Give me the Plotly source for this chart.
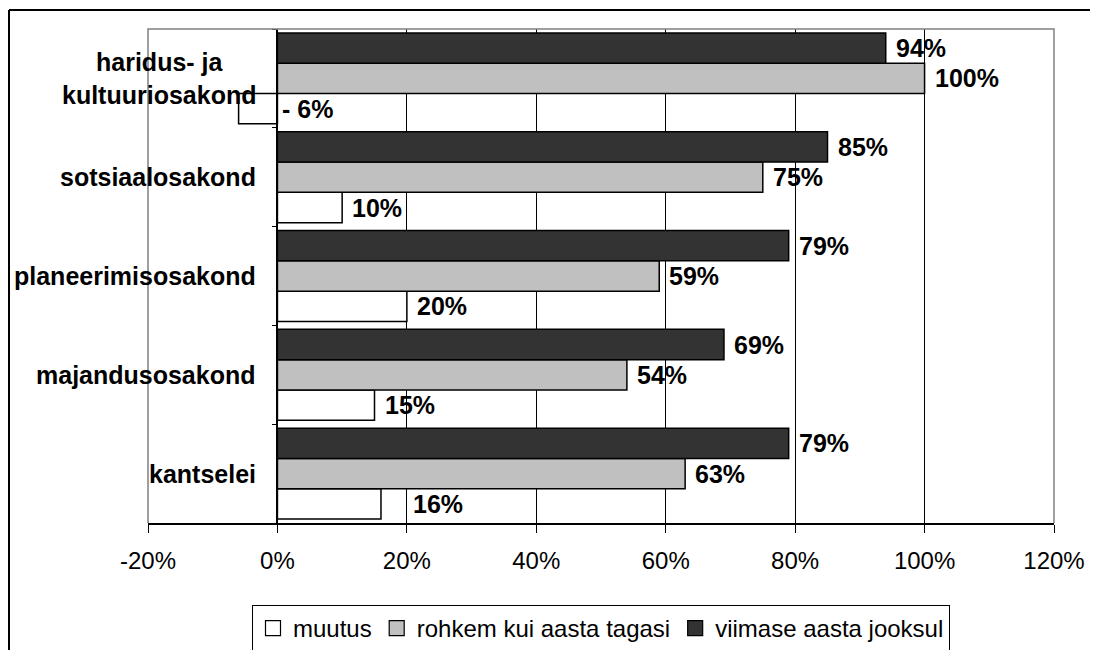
import plotly.graph_objects as go

# ---- data ----
categories = ["kantselei", "majandusosakond", "planeerimisosakond",
              "sotsiaalosakond", "haridus- ja<br>kultuuriosakond"]
muutus = [16, 15, 20, 10, -6]
rohkem = [63, 54, 59, 75, 100]
viimase = [79, 69, 79, 85, 94]
series_names = ["muutus", "rohkem kui aasta tagasi", "viimase aasta jooksul"]
x_ticks = [-20, 0, 20, 40, 60, 80, 100, 120]
x_ticklabels = ["-20%", "0%", "20%", "40%", "60%", "80%", "100%", "120%"]

# ---- style / layout ----
OFF = 8                      # page body margin
W, H = 1098 - OFF, 650 - OFF
ML, MR, MT, MB = 148 - OFF, 1098 - 1054, 29 - OFF, 650 - 523
PW, PH = W - ML - MR, H - MT - MB
FONT = "Liberation Sans, Arial, sans-serif"
fills = ["#FFFFFF", "#C0C0C0", "#333333"]
BARGAP = 0.08
LABEL_SHIFT = 8
label_shift_override = {(0, 0): 30}   # (series, category) -> xshift


def px_to_paper_x(px):
    return (px - OFF - ML) / PW


def px_to_paper_y(py):
    return (H - MB - (py - OFF)) / PH


series = [muutus, rohkem, viimase]
ypos = list(range(len(categories)))

fig = go.Figure()
for k, (name, vals) in enumerate(zip(series_names, series)):
    fig.add_trace(go.Bar(
        x=vals, y=ypos, orientation="h", name=name, showlegend=False,
        marker=dict(color=fills[k], line=dict(color="#000000", width=1.5)),
        hoverinfo="skip",
    ))
# legend entries (square swatches like the original)
for k, name in enumerate(series_names):
    fig.add_trace(go.Scatter(
        x=[None], y=[None], mode="markers", name=name, showlegend=True,
        marker=dict(symbol="square", size=15, color=fills[k],
                    line=dict(color="#000000", width=1.2)),
        hoverinfo="skip",
    ))

n = len(series)
bw = (1 - BARGAP) / n
annotations = []
for k, vals in enumerate(series):
    for i, v in enumerate(vals):
        yc = i - (1 - BARGAP) / 2 + (k + 0.5) * bw
        shift = label_shift_override.get((k, i), LABEL_SHIFT)
        xv = v
        if v < 0:
            xv = 0
            shift = 3
            txt = "- %d%%" % abs(v)
        else:
            txt = "%d%%" % v
        annotations.append(dict(
            x=xv, y=yc, xref="x", yref="y", text=txt, showarrow=False,
            xanchor="left", yanchor="middle", xshift=shift,
            font=dict(family=FONT, size=25, color="#000000", weight="bold"),
        ))

axis_pos = (0 - x_ticks[0]) / (x_ticks[-1] - x_ticks[0])
for i, c in enumerate(categories):
    annotations.append(dict(
        x=axis_pos, y=i, xref="paper", yref="y", text=c, showarrow=False,
        xanchor="right", yanchor="middle", align="center", xshift=-19,
        font=dict(family=FONT, size=25, color="#000000", weight="bold"),
    ))

shapes = [
    # plot-area border (grey, top/left/right)
    dict(type="path", xref="paper", yref="paper",
         path="M0,0 L0,1 L1,1 L1,0", line=dict(color="#808080", width=1.5),
         layer="above"),
    # outer chart border (top + left)
    dict(type="line", xref="paper", yref="paper",
         x0=px_to_paper_x(9), x1=px_to_paper_x(1110),
         y0=px_to_paper_y(10), y1=px_to_paper_y(10),
         line=dict(color="#000000", width=2)),
    dict(type="line", xref="paper", yref="paper",
         x0=px_to_paper_x(9), x1=px_to_paper_x(9),
         y0=px_to_paper_y(10), y1=px_to_paper_y(660),
         line=dict(color="#000000", width=2)),
]

fig.update_layout(
    width=W, height=H,
    margin=dict(l=ML, r=MR, t=MT, b=MB, pad=0, autoexpand=False),
    paper_bgcolor="#FFFFFF", plot_bgcolor="#FFFFFF",
    barmode="group", bargap=BARGAP, bargroupgap=0,
    font=dict(family=FONT, size=24, color="#000000"),
    showlegend=True,
    legend=dict(orientation="h", x=0.5, xanchor="center",
                yref="container", y=1 - (605 - OFF) / H, yanchor="top",
                bordercolor="#000000", borderwidth=1, bgcolor="#FFFFFF",
                font=dict(family=FONT, size=24, color="#000000"),
                itemwidth=30,
                traceorder="normal", itemclick=False, itemdoubleclick=False),
    annotations=annotations,
    shapes=shapes,
    xaxis=dict(range=[x_ticks[0], x_ticks[-1]], tickmode="array",
               tickvals=x_ticks, ticktext=x_ticklabels,
               showgrid=True, gridcolor="#000000", gridwidth=1,
               zeroline=False, showline=True, linecolor="#000000",
               linewidth=1.5, ticks="outside", ticklen=8,
               tickcolor="#000000", tickwidth=1, ticklabelstandoff=7,
               tickfont=dict(family=FONT, size=24, color="#000000"),
               fixedrange=True),
    yaxis=dict(range=[-0.5, len(categories) - 0.5], tickmode="array",
               tickvals=[i - 0.5 for i in range(len(categories) + 1)],
               showticklabels=False, showgrid=False, zeroline=False,
               anchor="free", position=axis_pos,
               showline=True, linecolor="#000000", linewidth=1.5,
               ticks="outside", ticklen=5, tickcolor="#000000",
               fixedrange=True),
)

fig.write_html("out.html", config={"displayModeBar": False})
